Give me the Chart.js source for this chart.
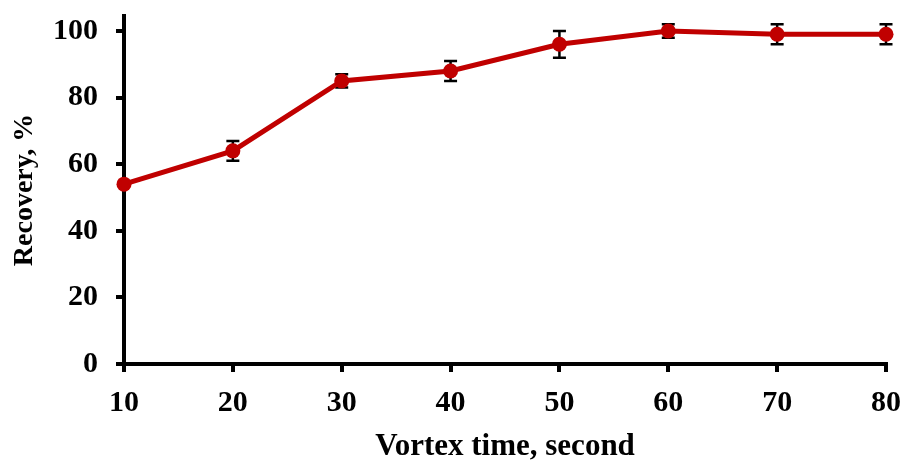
<!DOCTYPE html>
<html>
<head>
<meta charset="utf-8">
<script src="https://cdn.jsdelivr.net/npm/chart.js@4"></script>
<style>
  html, body { margin: 0; padding: 0; background: #fff; }
  #wrap { width: 904px; height: 462px; }
</style>
</head>
<body>
<div id="wrap"><canvas id="chart" width="904" height="462"></canvas></div>
<script>
// --- data ---
const vortexTimes = [10, 20, 30, 40, 50, 60, 70, 80];
const recovery = [54, 64, 85, 88, 96, 100, 99, 99];
const recoveryErr = [0, 3, 2, 3, 4, 2, 3, 3];
const yTicks = [0, 20, 40, 60, 80, 100];

const FONT = "'Liberation Serif', 'Times New Roman', serif";

// error bars drawn through the chart scales
const errorBars = {
  id: "errorBars",
  beforeDatasetsDraw(chart) {
    const { ctx, scales: { x, y } } = chart;
    ctx.save();
    ctx.strokeStyle = "#000";
    ctx.lineWidth = 2.5;
    vortexTimes.forEach((t, i) => {
      if (!recoveryErr[i]) return;
      const px = x.getPixelForValue(t);
      const top = y.getPixelForValue(recovery[i] + recoveryErr[i]);
      const bot = y.getPixelForValue(recovery[i] - recoveryErr[i]);
      ctx.beginPath();
      ctx.moveTo(px, top); ctx.lineTo(px, bot);
      ctx.moveTo(px - 6.5, top); ctx.lineTo(px + 6.5, top);
      ctx.moveTo(px - 6.5, bot); ctx.lineTo(px + 6.5, bot);
      ctx.stroke();
    });
    ctx.restore();
  }
};

new Chart(document.getElementById("chart"), {
  type: "line",
  data: {
    datasets: [{
      data: vortexTimes.map((t, i) => ({ x: t, y: recovery[i] })),
      borderColor: "#C00000",
      backgroundColor: "#C00000",
      borderWidth: 5,
      pointRadius: 7.5,
      pointBorderWidth: 0,
      tension: 0,
      clip: false
    }]
  },
  options: {
    responsive: false,
    animation: false,
    layout: { padding: { top: 16, right: 18, left: 0, bottom: 0 } },
    plugins: { legend: { display: false }, tooltip: { enabled: false } },
    scales: {
      x: {
        type: "linear",
        min: 10,
        max: 80,
        afterFit(axis) { axis.height = 98; axis.paddingLeft = 0; axis.paddingRight = 0; },
        ticks: { stepSize: 10, color: "#000", font: { family: FONT, size: 30, weight: "bold" }, padding: 13 },
        grid: { drawOnChartArea: false, color: "#000", lineWidth: 4, tickLength: 8 },
        border: { color: "#000", width: 4 },
        title: { display: true, text: "Vortex time, second", color: "#000", font: { family: FONT, size: 31, weight: "bold" }, padding: { top: 0, bottom: -4 } }
      },
      y: {
        min: 0,
        max: 104.5,
        afterFit(axis) { axis.width = 124; axis.paddingTop = 0; axis.paddingBottom = 0; },
        afterBuildTicks(axis) { axis.ticks = yTicks.map(v => ({ value: v })); },
        ticks: { color: "#000", font: { family: FONT, size: 30, weight: "bold" }, padding: 18 },
        grid: { drawOnChartArea: false, color: "#000", lineWidth: 4, tickLength: 8 },
        border: { color: "#000", width: 4 },
        title: { display: true, text: "Recovery, %", color: "#000", font: { family: FONT, size: 28, weight: "bold" }, padding: { top: 8, bottom: 0 } }
      }
    }
  },
  plugins: [errorBars]
});
</script>
</body>
</html>
